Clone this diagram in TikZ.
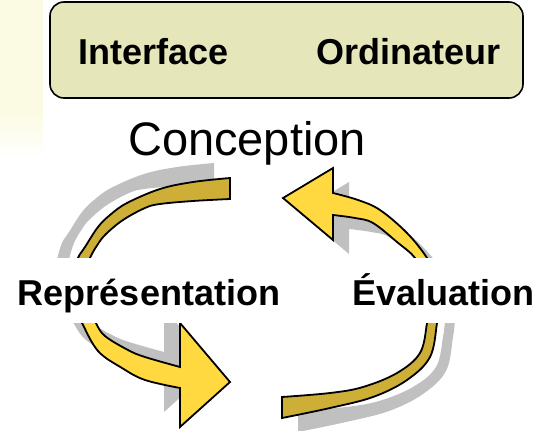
\documentclass[tikz,border=0pt]{standalone}
\usepackage{fontspec}
\setmainfont{Liberation Sans}
\definecolor{gold}{RGB}{205,175,55}
\definecolor{yel}{RGB}{255,217,63}
\definecolor{shad}{RGB}{192,192,192}
\definecolor{boxfill}{RGB}{229,230,185}
\definecolor{pale}{RGB}{251,251,228}
\tikzset{
  piece/.style={draw=black,line width=1.8pt,line join=miter,miter limit=10},
  lbl/.style={font=\fontsize{36}{40}\selectfont\bfseries,inner sep=0pt,anchor=base},
  ULp/.style={insert path={plot[smooth,tension=0.6] coordinates {(230,178) (193,182) (160,189) (127,203) (110,215) (98,227) (85,247) (78,258) (73,275) (71,292)}
     -- plot[smooth,tension=0.6] coordinates {(83,292) (85,275) (90,258) (98,244) (106,234) (123,220) (145,208) (160,204) (193,201) (230,199)} -- cycle}},
  LLp/.style={insert path={plot[smooth,tension=0.6] coordinates {(71,290) (75,308) (82,323) (98,351) (122,368) (145,380) (180,388)}
     -- (180,427) -- (230,382) -- (180,323)
     -- plot[smooth,tension=0.6] coordinates {(180,367) (145,357) (128,350) (105,336) (96,323) (91,308) (87,290)} -- cycle}},
  URp/.style={insert path={plot[smooth,tension=0.6] coordinates {(333,193) (358,200) (380,210) (407,233) (427,258) (433,275) (435,292)}
     -- plot[smooth,tension=0.6] coordinates {(422,292) (420,275) (415,258) (397,242) (373,223) (355,218) (333,215)}
     -- (333,240) -- (283,198) -- (333,168) -- cycle}},
  LRp/.style={insert path={plot[smooth,tension=0.6] coordinates {(282,397) (330,393) (363,387) (397,373) (420,353) (427,323) (429,305) (429,290)}
     -- plot[smooth,tension=0.6] coordinates {(439,290) (439,305) (437,323) (430,357) (407,380) (373,397) (330,408) (282,418)} -- cycle}},
}
\begin{document}
\begin{tikzpicture}[x=1pt,y=-1pt]
\useasboundingbox (0,0) rectangle (539,431);
% faint background strip at the left
\fill[pale] (0,0) rectangle (43,112);
\foreach \i in {0,...,9}{
  \pgfmathsetmacro{\pc}{100-10*\i}
  \fill[pale!\pc!white] (0,112+4.4*\i) rectangle (43,112+4.4*\i+4.5);
}
% header box
\node[draw=black,line width=1.6pt,rounded corners=14pt,fill=boxfill,minimum width=473pt,minimum height=96pt,inner sep=0pt] (hdr) at (286.5,50) {};
\node[lbl] (iface) at (153.5,64) {Interface};
\node[lbl] (ordi) at (408.5,64) {Ordinateur};
% shadows
\fill[shad,shift={(-16,-15)}] [ULp];
\fill[shad,shift={(-16,-15)}] [LLp];
\fill[shad,shift={(16,14)}] [URp];
\fill[shad,shift={(16,14)}] [LRp];
% arrows
\filldraw[piece,fill=gold] [ULp];
\filldraw[piece,fill=yel] [LLp];
\filldraw[piece,fill=yel] [URp];
\filldraw[piece,fill=gold] [LRp];
% labels
\node[font=\fontsize{47}{52}\selectfont,inner sep=0pt,anchor=base] (conc) at (247,155) {Conception};
\node[lbl,fill=white,text height=47pt,text depth=18pt,inner xsep=8pt] (rep) at (149,305) {Représentation};
\node[lbl,fill=white,text height=47pt,text depth=18pt,inner xsep=8pt] (eval) at (443.5,305) {Évaluation};
\end{tikzpicture}
\end{document}
